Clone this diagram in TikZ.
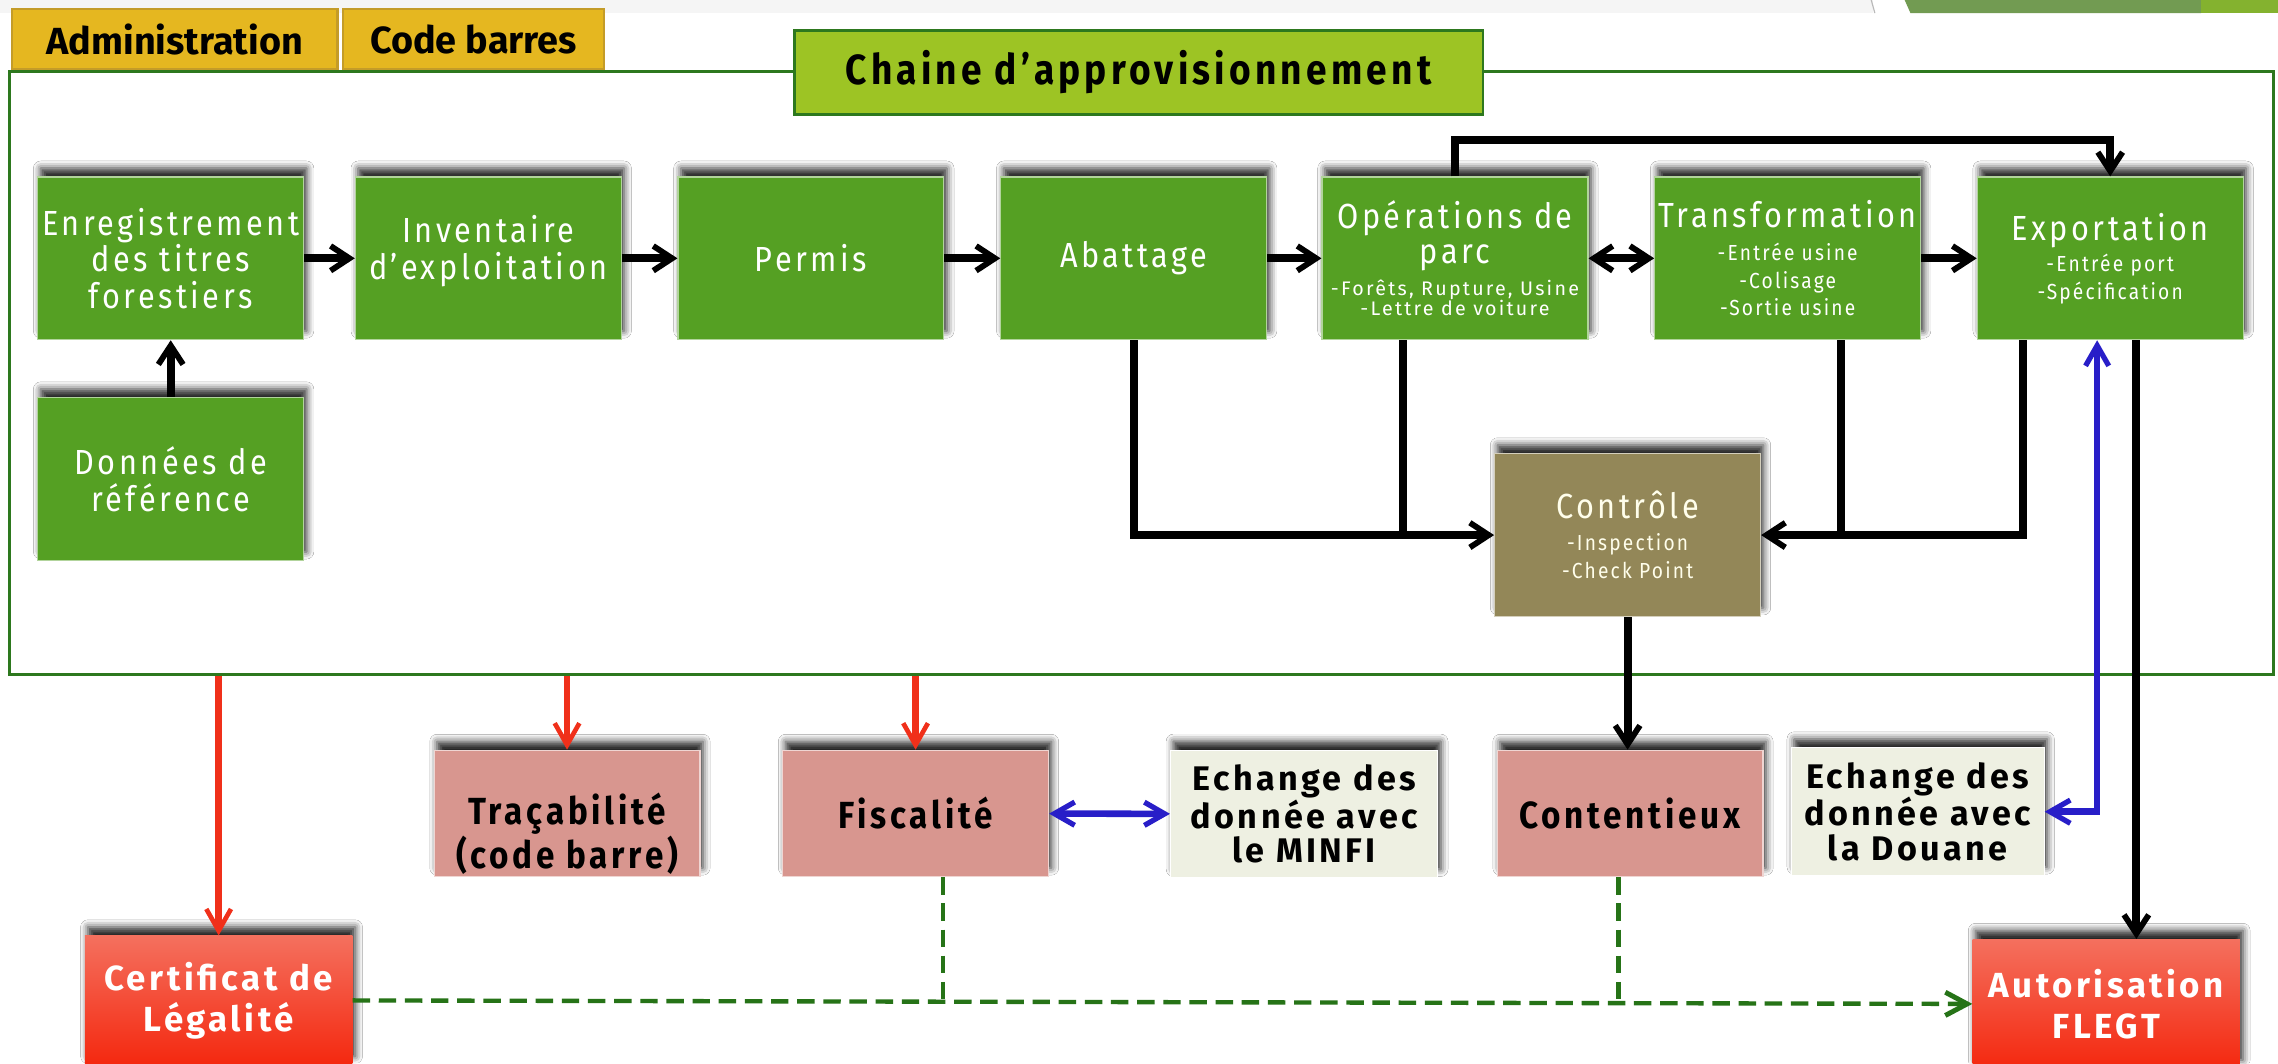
\documentclass[tikz,border=0pt]{standalone}
\usepackage{fontspec}
\setmainfont{Fira Sans}
\newfontfamily\boxfont{Fira Sans}[FakeStretch=0.88,LetterSpace=10]
\newfontfamily\widefont{Fira Sans}[LetterSpace=10]
\newfontfamily\tabfont{Fira Sans}
\usetikzlibrary{arrows.meta,shadows.blur,positioning}

\definecolor{boxgreen}{RGB}{85,160,35}
\definecolor{ctrlolive}{RGB}{147,135,88}
\definecolor{pinkbox}{RGB}{216,150,143}
\definecolor{creambox}{RGB}{238,240,226}
\definecolor{tabgold}{RGB}{229,183,32}
\definecolor{tabedge}{RGB}{196,156,40}
\definecolor{titlegreen}{RGB}{157,196,36}
\definecolor{framegreen}{RGB}{45,120,30}
\definecolor{linered}{RGB}{240,48,26}
\definecolor{lineblue}{RGB}{40,30,200}
\definecolor{dashgreen}{RGB}{38,115,23}
\definecolor{redtop}{RGB}{244,112,94}
\definecolor{redbot}{RGB}{244,40,15}
\definecolor{decodark}{RGB}{114,155,82}
\definecolor{decolight}{RGB}{132,178,47}

\newcommand{\stagetitle}[1]{{\fontsize{24}{26}\selectfont #1}}
\newcommand{\widesub}[1]{\scalebox{1.14}[1]{#1}}

\tikzset{
  boxshadow/.style={blur shadow={shadow xshift=2pt,shadow yshift=6pt,shadow blur radius=5pt,shadow opacity=85}},
  stage/.style={boxshadow,rectangle,draw=white!55!boxgreen,line width=.8pt,fill=boxgreen,text=white,align=center,
    inner sep=0pt,minimum width=183pt,minimum height=112pt,font=\boxfont\fontsize{24}{25}\selectfont},
  substage/.style={stage,font=\boxfont\fontsize{15}{19}\selectfont},
  outcome/.style={boxshadow,rectangle,draw=white!60!pinkbox,line width=.8pt,fill=pinkbox,text=black,align=center,
    inner sep=0pt,minimum width=183pt,minimum height=87pt,font=\boxfont\bfseries\fontsize{26}{29}\selectfont},
  exchange/.style={outcome,fill=creambox,draw=white,minimum width=184pt,minimum height=88pt,
    font=\widefont\bfseries\fontsize{23.5}{24}\selectfont},
  permit/.style={boxshadow,rectangle,top color=redtop,bottom color=redbot,text=white,align=center,
    inner sep=0pt,minimum width=184pt,minimum height=89pt,font=\widefont\bfseries\fontsize{24}{28}\selectfont},
  tab/.style={rectangle,draw=tabedge,line width=1.5pt,fill=tabgold,minimum height=41pt,inner sep=0pt,
    font=\tabfont\bfseries\fontsize{26}{26}\selectfont},
  heading/.style={rectangle,draw=framegreen,line width=2pt,fill=titlegreen,minimum width=474pt,minimum height=58pt,
    inner sep=0pt,font=\boxfont\bfseries\fontsize{29}{30}\selectfont},
  chainframe/.style={rectangle,draw=framegreen,line width=2pt,minimum width=1558pt,minimum height=414.7pt,inner sep=0pt},
  link/.style={line width=5.5pt},
  flow/.style={link,-{Straight Barb[length=13pt,width=17pt,line width=4pt]}},
  twoway/.style={link,{Straight Barb[length=13pt,width=17pt,line width=4pt]}-{Straight Barb[length=13pt,width=17pt,line width=4pt]}},
  alert/.style={draw=linered,line width=4.5pt,-{Straight Barb[length=15pt,width=17pt,line width=3.2pt]}},
  exch/.style={draw=lineblue,line width=4.5pt,{Straight Barb[length=14pt,width=16pt,line width=3.6pt]}-{Straight Barb[length=14pt,width=16pt,line width=3.6pt]}},
  legal/.style={draw=dashgreen,line width=3pt,dash pattern=on 12pt off 6pt},
  legalflow/.style={legal,-{Straight Barb[length=15pt,width=16pt,line width=3.4pt]}}
}

\begin{document}
\begin{tikzpicture}[x=1pt,y=-1pt]
\useasboundingbox (0,0) rectangle (1568,732);
\fill[white] (0,0) rectangle (1568,732);
\fill[gray!8] (0,0) rectangle (1289,9);
\draw[gray!55,line width=.8pt] (1288,0) -- (1290.5,9);
\fill[decodark] (1311,0) -- (1515,0) -- (1515,9) -- (1315,9) -- cycle;
\fill[decolight] (1515,0) rectangle (1568,9);

\node[chainframe] (chain) at (785.85,256.65) {};
\node[tab,minimum width=224pt] (admin) at (120.25,26.85) {Administration};
\node[tab,minimum width=180pt] (codes) at (326,26.85) {Code barres};
\node[heading] (title) at (783.75,49.9) {Chaine d’approvisionnement};

\node[stage] (Enregistrement) at (117.5,177.8) {Enregistrement\\des titres\\forestiers};
\node[stage] (Inventaire) at (336.1,177.8) {Inventaire\\d’exploitation\rule[-15pt]{0pt}{15pt}};
\node[stage] (Permis) at (558.2,177.8) {Permis};
\node[stage] (Abattage) at (780.4,177.8) {Abattage};
\node[substage,font=\boxfont\fontsize{13.5}{14}\selectfont] (Operations) at (1001.5,177.8)
  {\stagetitle{Opérations de}\\[5pt]\stagetitle{parc}\\[5pt]\widesub{-Forêts, Rupture, Usine}\\\widesub{-Lettre de voiture}};
\node[substage] (Transformation) at (1230.5,177.8)
  {\stagetitle{Transformation}\\[3.4pt]-Entrée usine\\-Colisage\\-Sortie usine};
\node[substage] (Exportation) at (1452.5,177.8)
  {\stagetitle{Exportation}\\[2.7pt]-Entrée port\\-Spécification};
\node[stage] (Donnees) at (117.5,329.8) {Données de\\référence};
\node[substage,fill=ctrlolive,draw=white!60!ctrlolive,text=white!92!yellow] (Controle) at (1120.3,368.3)
  {\stagetitle{Contrôle}\\[3pt]-Inspection\\-Check Point};

\node[outcome] (Tracabilite) at (390.3,559.9) {\rule{0pt}{50pt}Traçabilité\\(code barre)};
\node[outcome] (Fiscalite) at (630.2,559.9) {Fiscalité};
\node[exchange] (Minfi) at (897.7,560.3) {Echange des\\donnée avec\\le MINFI};
\node[outcome] (Contentieux) at (1122,559.9) {Contentieux};
\node[exchange,minimum width=174pt] (Douane) at (1320,558.7) {Echange des\\donnée avec\\la Douane};
\node[permit] (Certificat) at (150.5,688.6) {Certificat de\\Légalité};
\node[permit] (Autorisation) at (1449.8,691) {Autorisation\\FLEGT};

\draw[flow] (Enregistrement) -- (Inventaire);
\draw[flow] (Inventaire) -- (Permis);
\draw[flow] (Permis) -- (Abattage);
\draw[flow] (Abattage) -- (Operations);
\draw[twoway] (Operations) -- (Transformation);
\draw[flow] (Transformation) -- (Exportation);
\draw[flow] (Donnees) -- (Enregistrement);
\draw[flow] (Operations.north) -- ++(0,-25) -| (Exportation.north);
\draw[flow] (Abattage.south) |- (Controle.west);
\draw[link] ([xshift=-36pt]Operations.south) -- ([xshift=-36pt]Operations.south |- Controle.west);
\draw[flow] ([xshift=-60pt]Exportation.south) |- (Controle.east);
\draw[link] ([xshift=37pt]Transformation.south) -- ([xshift=37pt]Transformation.south |- Controle.east);
\draw[flow] (Controle.south) -- (Controle.south |- Contentieux.north);
\draw[flow] ([xshift=18pt]Exportation.south) -- ([xshift=18pt]Exportation.south |- Autorisation.north);
\draw[exch] (Douane.east) -| ([xshift=-9pt]Exportation.south);
\draw[exch] (Fiscalite) -- (Minfi);

\draw[alert] (chain.south -| Certificat.north) -- (Certificat.north);
\draw[alert] (chain.south -| Tracabilite.north) -- (Tracabilite.north);
\draw[alert] (chain.south -| Fiscalite.north) -- (Fiscalite.north);

\draw[legalflow] (Certificat.east) -- (Autorisation.west);
\draw[legal] ([xshift=19pt]Fiscalite.south) -- ([xshift=19pt]Fiscalite.south |- Certificat.east);
\draw[legal] ([xshift=-8pt]Contentieux.south) -- ([xshift=-8pt]Contentieux.south |- Autorisation.west);
\end{tikzpicture}
\end{document}
